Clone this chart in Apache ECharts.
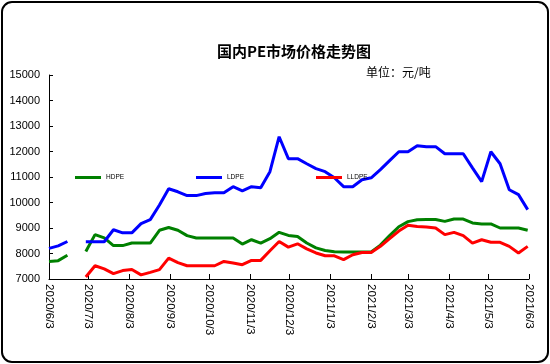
<!DOCTYPE html>
<html><head><meta charset="utf-8">
<script src="https://cdn.jsdelivr.net/npm/echarts@6/dist/echarts.min.js"></script>
<style>
html,body{margin:0;padding:0;background:#fff;}
#chart{position:absolute;left:0;top:0;width:550px;height:364px;}
#frame{position:absolute;left:1px;top:1px;width:544px;height:358px;border:2px solid #000;border-radius:11px;pointer-events:none;}
</style></head><body>
<div id="chart"></div><div id="frame"></div>
<script>
const dates = ['2020/6/3','2020/6/10','2020/6/17','2020/6/24','2020/7/1','2020/7/8','2020/7/15','2020/7/22','2020/7/29',
  '2020/8/5','2020/8/12','2020/8/19','2020/8/26','2020/9/2','2020/9/9','2020/9/16','2020/9/23','2020/9/30',
  '2020/10/7','2020/10/14','2020/10/21','2020/10/28','2020/11/4','2020/11/11','2020/11/18','2020/11/25',
  '2020/12/2','2020/12/9','2020/12/16','2020/12/23','2020/12/30','2021/1/6','2021/1/13','2021/1/20','2021/1/27',
  '2021/2/3','2021/2/10','2021/2/17','2021/2/24','2021/3/3','2021/3/10','2021/3/17','2021/3/24','2021/3/31',
  '2021/4/7','2021/4/14','2021/4/21','2021/4/28','2021/5/5','2021/5/12','2021/5/19','2021/5/26','2021/6/2'];
const hdpe = [7690,7720,7930,null,8080,8740,8610,8310,8310,8410,8410,8410,8910,9020,8910,8700,8610,8610,8610,8610,8610,
  8370,8540,8410,8580,8830,8710,8670,8410,8220,8120,8070,8060,8060,8060,8060,8330,8700,9050,9250,9320,9330,9330,
  9260,9350,9350,9200,9160,9160,9000,9000,9000,8910];
const ldpe = [8200,8300,8470,null,8460,8460,8460,8930,8810,8810,9170,9330,9900,10540,10420,10270,10270,10350,10380,10380,
  10620,10460,10620,10580,11210,12580,11720,11720,11520,11330,11210,10970,10620,10620,10890,10970,11290,11640,11990,
  11990,12230,12190,12190,11910,11910,11910,11360,10820,11990,11520,10500,10310,9720];
const lldpe = [null,null,null,null,7080,7520,7400,7210,7330,7370,7160,7260,7370,7820,7640,7520,7520,7520,7520,7690,7630,
  7560,7730,7730,8110,8470,8250,8380,8180,8020,7910,7910,7760,7950,8040,8040,8280,8580,8880,9110,9060,9040,9000,
  8740,8830,8700,8410,8540,8440,8440,8280,8020,8280];
const seriesNames = ['HDPE','LDPE','LLDPE'];
const seriesColors = ['#008000','#0000FF','#FF0000'];
const xTickLabels = ['2020/6/3','2020/7/3','2020/8/3','2020/9/3','2020/10/3','2020/11/3','2020/12/3',
  '2021/1/3','2021/2/3','2021/3/3','2021/4/3','2021/5/3','2021/6/3'];
const yMin = 7000, yMax = 15000, yStep = 1000;
const titleText = '国内PE市场价格走势图';
const unitText = '单位：元/吨';

function utc(s){const p=s.split('/').map(Number);return Date.UTC(p[0],p[1]-1,p[2]);}
const t0 = utc(xTickLabels[0]);
function dayOf(s){return Math.round((utc(s)-t0)/86400000);}
const xTicks = xTickLabels.map(dayOf);
const labelByDay = {};
xTickLabels.forEach((s,i)=>{labelByDay[xTicks[i]] = s;});
function pairs(vals){return dates.map((d,i)=>[dayOf(d), vals[i]]);}
const allVals = [hdpe, ldpe, lldpe];
const legendLefts = [75, 196, 316];

const chart = echarts.init(document.getElementById('chart'), null, {renderer:'canvas'});
const font = 'Liberation Sans, Arial, sans-serif';
chart.setOption({
  animation:false,
  backgroundColor:'#fff',
  title:{text:titleText,left:289,top:39,textAlign:'center',
    textStyle:{fontSize:15,fontWeight:'bold',color:'#000',fontFamily:'Noto Sans CJK SC'}},
  graphic:[{type:'text',left:366,top:66,style:{text:unitText,fontSize:12,fill:'#000',fontFamily:'Noto Sans CJK SC'}}],
  legend: seriesNames.map((n,i)=>({data:[n],left:legendLefts[i],top:174,icon:'rect',itemWidth:26,itemHeight:3,
    padding:0,textStyle:{fontSize:6.5,color:'#000',fontFamily:font}})),
  grid:{left:49,right:21,top:75,bottom:85,containLabel:false},
  xAxis:{type:'value',min:xTicks[0],max:xTicks[xTicks.length-1],
    axisLine:{lineStyle:{color:'#000',width:1}},
    axisTick:{show:true,inside:true,length:5,customValues:xTicks,lineStyle:{color:'#000'}},
    axisLabel:{customValues:xTicks,rotate:-90,margin:5,fontSize:11.5,color:'#000',fontFamily:font,
      formatter:(v)=>labelByDay[v]||'',hideOverlap:false,showMinLabel:true,showMaxLabel:true},
    splitLine:{show:false}},
  yAxis:{type:'value',min:yMin,max:yMax,interval:yStep,
    axisLine:{show:true,lineStyle:{color:'#000',width:1}},
    axisTick:{show:true,inside:true,length:4,lineStyle:{color:'#000'}},
    axisLabel:{margin:9,fontSize:11,color:'#000',fontFamily:font,formatter:(v)=>String(v)},
    splitLine:{show:false}},
  series: seriesNames.map((n,i)=>({name:n,type:'line',data:pairs(allVals[i]),showSymbol:false,symbol:'none',
    connectNulls:false,color:seriesColors[i],lineStyle:{width:3,color:seriesColors[i]}}))
});
</script></body></html>
